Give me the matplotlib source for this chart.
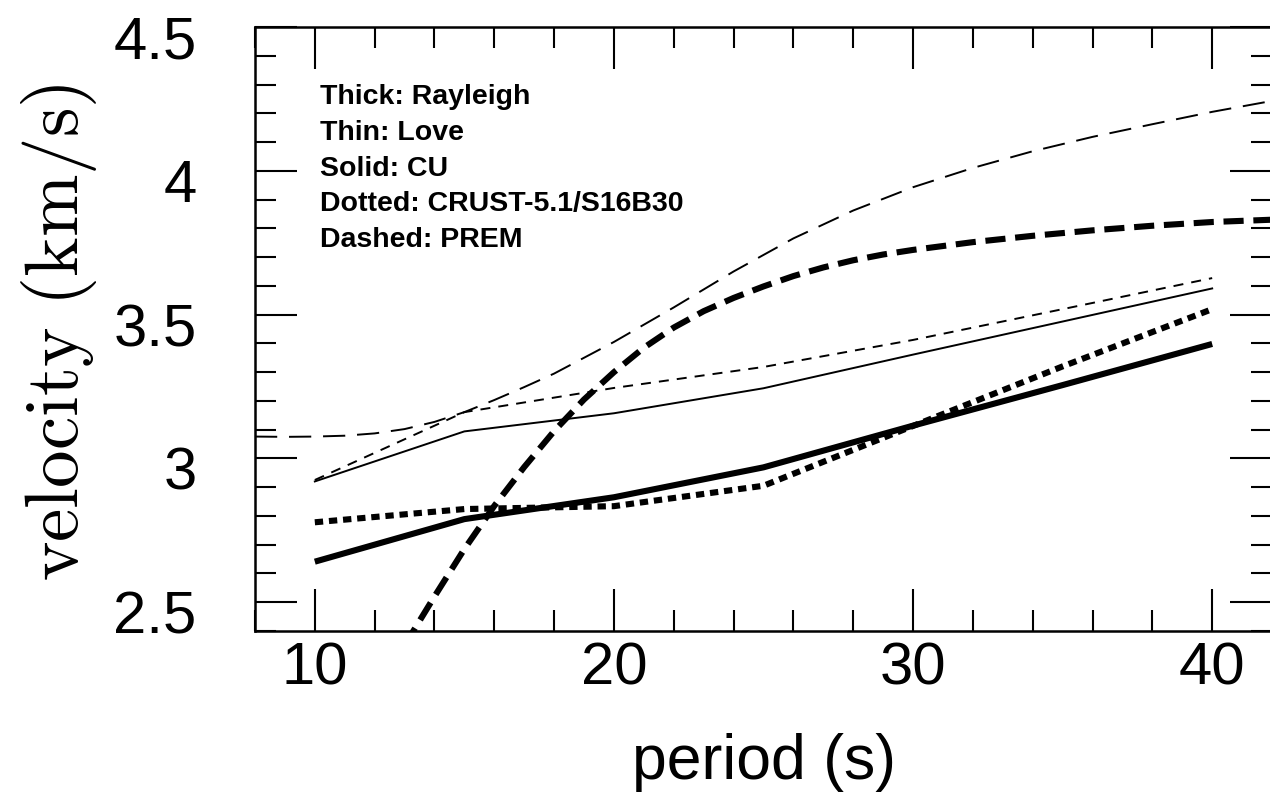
import matplotlib
matplotlib.use('Agg')
import matplotlib.pyplot as plt
from matplotlib.ticker import MultipleLocator
import matplotlib.transforms as mtransforms

plt.rcParams['lines.scale_dashes'] = False
plt.rcParams['mathtext.fontset'] = 'cm'
plt.rcParams['font.family'] = ['Liberation Sans', 'DejaVu Sans']

# ---- data ----
periods_model = [10, 15, 20, 25, 30, 35, 40]
cu_rayleigh = [2.641, 2.789, 2.865, 2.969, 3.114, 3.255, 3.398]
cu_love = [2.920, 3.094, 3.157, 3.244, 3.361, 3.476, 3.591]
crust_rayleigh = [2.778, 2.824, 2.834, 2.905, 3.113, 3.320, 3.519]
crust_love = [2.925, 3.161, 3.245, 3.318, 3.412, 3.519, 3.627]

prem_r_periods = [13, 14, 15, 16, 17, 18, 19, 20, 21, 22, 23, 24, 25, 26, 27, 28,
                  29, 30, 32, 34, 36, 38, 40, 42]
prem_rayleigh = [2.35, 2.52, 2.685, 2.835, 2.97, 3.095, 3.205, 3.30, 3.385, 3.455,
                 3.512, 3.558, 3.598, 3.634, 3.664, 3.689, 3.709, 3.725, 3.752,
                 3.774, 3.793, 3.809, 3.822, 3.830]

prem_l_periods = [8, 9, 10, 11, 12, 13, 14, 15, 16, 17, 18, 19, 20, 22, 24, 26, 28,
                  30, 32, 34, 36, 38, 40, 42]
prem_love = [3.076, 3.075, 3.076, 3.079, 3.087, 3.102, 3.127, 3.161, 3.203, 3.248,
             3.295, 3.35, 3.405, 3.525, 3.65, 3.765, 3.862, 3.943, 4.010, 4.068,
             4.118, 4.162, 4.205, 4.243]

x_ticks = [10, 20, 30, 40]
x_tick_labels = ['10', '20', '30', '40']
y_ticks = [2.5, 3.0, 3.5, 4.0, 4.5]
y_tick_labels = ['2.5', '3', '3.5', '4', '4.5']

legend_lines = ['Thick: Rayleigh', 'Thin: Love', 'Solid: CU',
                'Dotted: CRUST-5.1/S16B30', 'Dashed: PREM']

# ---- figure ----
W, H = 1270, 812
fig = plt.figure(figsize=(W / 100, H / 100), dpi=100)
ax = fig.add_axes([255 / W, 180 / H, 1017 / W, 604 / H])

thick, thin = 4.4, 1.4
ax.plot(periods_model, cu_rayleigh, color='k', lw=thick, solid_capstyle='butt')
ax.plot(periods_model, cu_love, color='k', lw=thin)
ax.plot(periods_model, crust_rayleigh, color='k', lw=thick, dashes=(6, 4.2),
        dash_capstyle='butt')
ax.plot(periods_model, crust_love, color='k', lw=thin, dashes=(7.2, 5.8))
ax.plot(prem_r_periods, prem_rayleigh, color='k', lw=thick, dashes=(14.5, 7),
        dash_capstyle='butt')
ax.plot(prem_l_periods, prem_love, color='k', lw=thin, dashes=(16, 8.5))

ax.set_xlim(8, 42)
ax.set_ylim(2.4, 4.5)
ax.set_xticks(x_ticks)
ax.set_xticklabels(x_tick_labels)
ax.set_yticks(y_ticks)
ax.set_yticklabels(y_tick_labels)
ax.xaxis.set_minor_locator(MultipleLocator(2))
ax.yaxis.set_minor_locator(MultipleLocator(0.1))

ax.tick_params(which='both', direction='in', top=True, right=True,
               width=1.5, color='k')
ax.tick_params(which='major', length=30)
ax.tick_params(which='minor', length=15)
ax.tick_params(axis='x', which='major', labelsize=43, pad=7)
ax.tick_params(axis='y', which='major', labelsize=43, pad=42)

for sp in ax.spines.values():
    sp.set_linewidth(1.8)

offset = mtransforms.ScaledTranslation(0, -9 / 100, fig.dpi_scale_trans)
for lab in ax.get_yticklabels():
    lab.set_transform(lab.get_transform() + offset)

ax.set_xlabel('period (s)', fontsize=45)
ax.xaxis.set_label_coords(0.5, -0.168)
ax.set_ylabel(r'$\mathrm{velocity\ (km/s)}$', fontsize=54)
ax.yaxis.set_label_coords(-0.153, 0.497)

y0 = 0.874
for i, line in enumerate(legend_lines):
    ax.text(0.064, y0 - i * 0.0592, line, transform=ax.transAxes,
            fontsize=20.5, fontweight='bold', va='baseline', ha='left')

fig.savefig('out.png', dpi=100)
